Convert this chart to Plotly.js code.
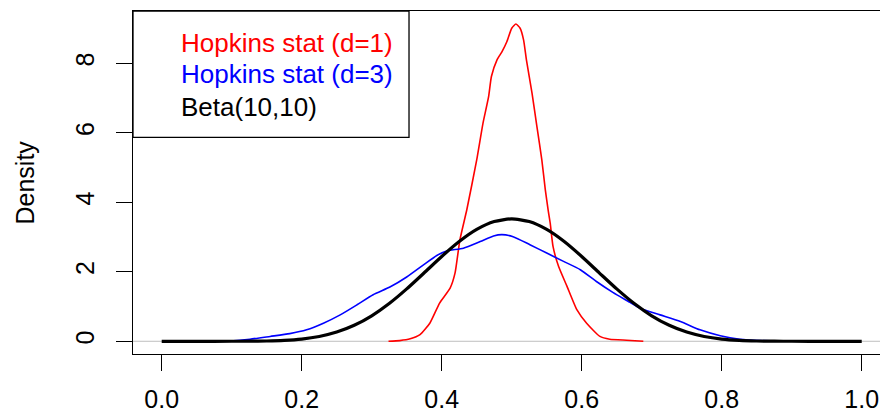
<!DOCTYPE html>
<html>
<head>
<meta charset="utf-8">
<script src="https://cdn.plot.ly/plotly-3.0.1.min.js"></script>
<style>html,body{margin:0;padding:0;background:#fff;}#chart{width:880px;height:414px;}</style>
</head>
<body>
<div id="chart"></div>
<script>
// Hopkins stat (d=1) density
const redX = [0.324,0.340,0.355,0.369,0.383,0.397,0.412,0.419,0.426,0.436,0.450,0.459,0.467,0.471,0.479,0.486,0.493,0.500,0.506,0.512,0.517,0.521,0.529,0.536,0.543,0.548,0.552,0.555,0.559,0.567,0.579,0.593,0.607,0.626,0.640,0.664,0.688];
const redY = [0,0.02,0.07,0.19,0.52,1.10,1.53,1.96,2.92,3.80,5.22,6.28,7.04,7.62,8.10,8.33,8.62,9.01,9.13,9.01,8.67,8.10,7.14,6.18,5.22,4.36,3.78,3.40,2.73,2.15,1.58,0.91,0.52,0.14,0.06,0.03,0];
// Hopkins stat (d=3) density
const blueX = [0.080,0.098,0.126,0.155,0.183,0.207,0.231,0.255,0.279,0.302,0.326,0.350,0.374,0.393,0.407,0.431,0.455,0.474,0.486,0.502,0.526,0.550,0.574,0.598,0.621,0.645,0.669,0.683,0.712,0.741,0.769,0.798,0.826,0.855,0.890,0.920];
const blueY = [0,0.01,0.06,0.14,0.22,0.33,0.52,0.76,1.05,1.34,1.56,1.85,2.20,2.47,2.60,2.68,2.87,3.03,3.07,3.01,2.78,2.54,2.30,2.06,1.72,1.40,1.12,0.95,0.76,0.57,0.33,0.16,0.06,0.02,0.005,0];
// Beta(10,10) curve
const blackX = [0,0.05,0.1,0.125,0.15,0.175,0.2,0.225,0.25,0.275,0.3,0.325,0.35,0.375,0.4,0.425,0.45,0.475,0.5,0.525,0.55,0.575,0.6,0.625,0.65,0.675,0.7,0.725,0.75,0.775,0.8,0.825,0.85,0.875,0.9,0.95,1];
const blackY = [0,0,0.0004,0.002,0.008,0.025,0.064,0.138,0.265,0.46,0.734,1.087,1.508,1.971,2.44,2.871,3.219,3.445,3.524,3.445,3.219,2.871,2.44,1.971,1.508,1.087,0.734,0.46,0.265,0.138,0.064,0.025,0.008,0.002,0.0004,0,0];

const legendLabels = ["Hopkins stat (d=1)", "Hopkins stat (d=3)", "Beta(10,10)"];
const legendColors = ["#FF0000", "#0000FF", "#000000"];
const xTicks = [0, 0.2, 0.4, 0.6, 0.8, 1.0];
const yTicks = [0, 2, 4, 6, 8];

const FONT = "Liberation Sans, Arial, Helvetica, sans-serif";

const traces = [
  {x: redX, y: redY, type: "scatter", mode: "lines", line: {color: "#FF0000", width: 1.6, shape: "spline", smoothing: 0.5}, hoverinfo: "skip"},
  {x: blueX, y: blueY, type: "scatter", mode: "lines", line: {color: "#0000FF", width: 1.6, shape: "spline", smoothing: 0.6}, hoverinfo: "skip"},
  {x: blackX, y: blackY, type: "scatter", mode: "lines", line: {color: "#000000", width: 3.2, shape: "spline", smoothing: 0.6}, hoverinfo: "skip"}
];

const legendYs = [0.9076, 0.8149, 0.7201];
const annotations = legendLabels.map((t, i) => ({
  text: t, xref: "paper", yref: "paper", x: 0.0616, y: legendYs[i],
  xanchor: "left", yanchor: "middle", showarrow: false,
  font: {family: FONT, size: 26, color: legendColors[i]}
}));
annotations.push({
  text: "Density", xref: "paper", yref: "paper", x: 0, y: 0.5, xshift: -109,
  xanchor: "center", yanchor: "middle", textangle: -90, showarrow: false,
  font: {family: FONT, size: 25, color: "#000"}
});

const layout = {
  width: 880, height: 414,
  margin: {l: 133, r: 0, t: 11, b: 60, pad: 0},
  paper_bgcolor: "#fff", plot_bgcolor: "#fff",
  showlegend: false,
  font: {family: FONT, size: 25, color: "#000"},
  xaxis: {
    range: [-0.041, 1.0261], showgrid: false, zeroline: false,
    showline: true, mirror: true, linecolor: "#000", linewidth: 1.3,
    ticks: "outside", ticklen: 16, tickwidth: 1.3, tickcolor: "#000",
    tickvals: xTicks, ticktext: xTicks.map(v => v.toFixed(1)),
    ticklabelstandoff: 7,
    tickfont: {family: FONT, size: 25, color: "#000"}
  },
  yaxis: {
    range: [-0.366, 9.506], showgrid: false, zeroline: false,
    showline: true, mirror: false, linecolor: "#000", linewidth: 1.3,
    ticks: "outside", ticklen: 16, tickwidth: 1.3, tickcolor: "#000",
    tickvals: yTicks, ticktext: yTicks.map(String), tickangle: -90,
    ticklabelstandoff: 12,
    tickfont: {family: FONT, size: 25, color: "#000"}
  },
  shapes: [
    {type: "line", xref: "paper", yref: "y", x0: 0, x1: 1, y0: 0, y1: 0, line: {color: "#BEBEBE", width: 1}, layer: "below"},
    {type: "rect", xref: "paper", yref: "paper", x0: 0, x1: 0.3695, y0: 0.6318, y1: 1, line: {color: "#000", width: 1.3}, fillcolor: "rgba(0,0,0,0)"}
  ],
  annotations: annotations
};

Plotly.newPlot("chart", traces, layout, {staticPlot: true, displayModeBar: false});
</script>
</body>
</html>
